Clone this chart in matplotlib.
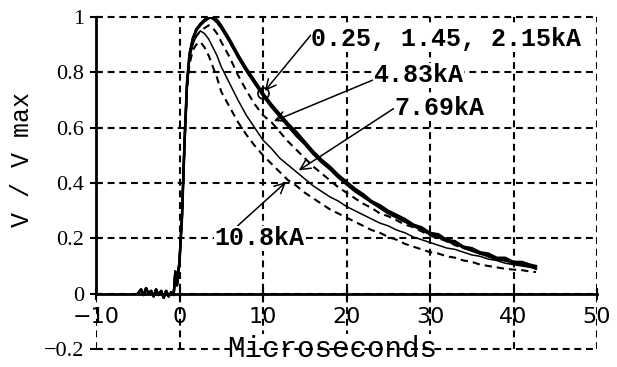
import matplotlib
matplotlib.use("Agg")
import matplotlib.pyplot as plt

# ---------------- data ----------------
# pre-trigger baseline noise (common to all records)
t_pre = [-5.0, -4.6, -4.3, -4.0, -3.7, -3.4, -3.1, -2.8, -2.5, -2.2, -1.9, -1.6,
         -1.3, -1.0, -0.7, -0.5]
v_pre = [0.0, 0.015, -0.005, 0.02, 0.0, 0.01, -0.01, 0.015, -0.005, 0.01, -0.015,
         0.01, -0.01, 0.005, -0.005, 0.08]

t_rise = [-0.3, 0.0, 0.3, 0.6, 0.9, 1.2, 1.6, 2.0, 2.5, 3.0, 3.5, 4.0, 4.5]
t_decay = [5, 6, 7, 8, 9, 10, 11, 12, 13, 14, 15, 16, 17, 18, 19, 20, 21, 22, 23,
           24, 25, 26, 27, 28, 29, 30, 31, 32, 33, 34, 35, 36, 37, 38, 39, 40, 41,
           42, 42.7]

rise_025 = [0.03, 0.12, 0.28, 0.55, 0.76, 0.86, 0.92, 0.95, 0.97, 0.985, 0.995, 1.0, 0.99]
decay_025 = [0.97, 0.92, 0.865, 0.815, 0.77, 0.725, 0.685, 0.65, 0.615, 0.585, 0.55,
             0.515, 0.485, 0.46, 0.43, 0.405, 0.38, 0.36, 0.335, 0.32, 0.30, 0.285,
             0.27, 0.25, 0.24, 0.22, 0.215, 0.195, 0.19, 0.17, 0.165, 0.15, 0.145,
             0.13, 0.13, 0.115, 0.115, 0.105, 0.10]

rise_145 = [0.03, 0.11, 0.27, 0.53, 0.75, 0.86, 0.92, 0.955, 0.975, 0.99, 1.0, 0.995, 0.985]
decay_145 = [0.965, 0.915, 0.86, 0.81, 0.765, 0.72, 0.68, 0.645, 0.61, 0.575, 0.545,
             0.51, 0.48, 0.455, 0.425, 0.40, 0.375, 0.355, 0.33, 0.315, 0.295, 0.28,
             0.265, 0.245, 0.235, 0.215, 0.21, 0.19, 0.185, 0.165, 0.16, 0.145, 0.14,
             0.125, 0.125, 0.11, 0.11, 0.10, 0.095]

rise_215 = [0.03, 0.12, 0.29, 0.56, 0.77, 0.87, 0.925, 0.955, 0.975, 0.99, 1.0, 0.995, 0.98]
decay_215 = [0.96, 0.91, 0.855, 0.805, 0.76, 0.715, 0.675, 0.64, 0.605, 0.57, 0.54,
             0.505, 0.475, 0.45, 0.42, 0.395, 0.37, 0.35, 0.33, 0.31, 0.29, 0.275,
             0.26, 0.245, 0.23, 0.215, 0.205, 0.19, 0.18, 0.17, 0.155, 0.145, 0.135,
             0.125, 0.12, 0.11, 0.105, 0.10, 0.09]

rise_483 = [0.03, 0.12, 0.28, 0.54, 0.75, 0.85, 0.91, 0.93, 0.95, 0.96, 0.97, 0.96, 0.94]
decay_483 = [0.91, 0.855, 0.79, 0.735, 0.685, 0.645, 0.62, 0.585, 0.55, 0.52, 0.49,
             0.46, 0.435, 0.41, 0.385, 0.365, 0.345, 0.325, 0.31, 0.29, 0.28, 0.265,
             0.25, 0.24, 0.225, 0.21, 0.20, 0.19, 0.175, 0.165, 0.155, 0.145, 0.135,
             0.125, 0.12, 0.11, 0.105, 0.10, 0.095]

rise_769 = [0.03, 0.12, 0.28, 0.54, 0.75, 0.85, 0.90, 0.93, 0.95, 0.94, 0.92, 0.89, 0.86]
decay_769 = [0.82, 0.76, 0.70, 0.645, 0.60, 0.555, 0.525, 0.49, 0.465, 0.44, 0.415,
             0.39, 0.37, 0.35, 0.335, 0.315, 0.30, 0.285, 0.27, 0.255, 0.245, 0.23,
             0.22, 0.205, 0.195, 0.185, 0.175, 0.165, 0.16, 0.15, 0.14, 0.135, 0.125,
             0.12, 0.11, 0.105, 0.10, 0.095, 0.09]

rise_108 = [0.03, 0.12, 0.28, 0.54, 0.74, 0.83, 0.88, 0.90, 0.91, 0.89, 0.86, 0.82, 0.78]
decay_108 = [0.73, 0.675, 0.62, 0.575, 0.535, 0.50, 0.47, 0.44, 0.41, 0.39, 0.365,
             0.345, 0.325, 0.305, 0.29, 0.275, 0.26, 0.245, 0.23, 0.22, 0.205, 0.195,
             0.18, 0.17, 0.16, 0.15, 0.145, 0.135, 0.13, 0.12, 0.115, 0.105, 0.10,
             0.095, 0.09, 0.087, 0.085, 0.08, 0.078]

x_ticks = [-10, 0, 10, 20, 30, 40, 50]
x_tick_labels = ["\u221210", "0", "10", "20", "30", "40", "50"]
y_ticks = [-0.2, 0, 0.2, 0.4, 0.6, 0.8, 1.0]
y_tick_labels = ["\u22120.2", "0", "0.2", "0.4", "0.6", "0.8", "1"]

label_main = "0.25, 1.45, 2.15kA"
label_483 = "4.83kA"
label_769 = "7.69kA"
label_108 = "10.8kA"
x_label = "Microseconds"
y_label = "V / V max"

# ---------------- figure ----------------
W, H = 617, 367
fig = plt.figure(figsize=(W / 100, H / 100), dpi=100)
ax = fig.add_axes([96 / W, 1 - 349 / H, 501 / W, 332 / H])
ax.set_xlim(-10, 50)
ax.set_ylim(-0.2, 1.0)

t_full = t_pre + t_rise + t_decay
def full(rise, decay):
    return v_pre + rise + decay

solid_main = dict(color="black", lw=1.7, solid_joinstyle="round")
dash_style = (0, (3.5, 2.4))

ax.plot(t_full, full(rise_025, decay_025), **solid_main, zorder=5)
ax.plot(t_full, full(rise_145, decay_145), **solid_main, zorder=5)
ax.plot(t_full, full(rise_215, decay_215), **solid_main, zorder=5)
ax.plot(t_full, full(rise_483, decay_483), color="black", lw=1.5, ls=dash_style, zorder=4)
ax.plot(t_full, full(rise_769, decay_769), color="black", lw=1.1, zorder=4)
ax.plot(t_full, full(rise_108, decay_108), color="black", lw=1.5, ls=dash_style, zorder=4)

# circle marker on the main curve at t = 10
i10 = t_decay.index(10)
ax.plot([t_decay[i10]], [decay_025[i10]], marker="o", ms=8, mfc="none",
        mec="black", mew=1.2, zorder=6)

# ---------------- axes styling ----------------
ax.set_xticks(x_ticks)
ax.set_xticklabels(x_tick_labels, family="Liberation Serif")
ax.set_yticks(y_ticks)
ax.set_yticklabels(y_tick_labels, family="Liberation Serif")
ax.tick_params(direction="inout", length=9, width=1.5, labelsize=16, colors="black")
ax.tick_params(axis="x", pad=5)
ax.tick_params(axis="y", pad=4)

ax.grid(True, color="black", linestyle=(0, (3.3, 2.3)), linewidth=1.5)
for gl in ax.get_xgridlines() + ax.get_ygridlines():
    gl.set_clip_on(False)
ax.get_xgridlines()[0].set_visible(False)

for s in ("top", "right"):
    ax.spines[s].set_visible(False)
ax.spines["left"].set_linewidth(2)
ax.spines["left"].set_bounds(0, 1)
ax.spines["bottom"].set_position(("data", 0))
ax.spines["bottom"].set_linewidth(2)
ax.set_axisbelow(False)

ax.set_xlabel(x_label, family="Liberation Mono", fontsize=21,
              bbox=dict(facecolor="white", edgecolor="none", pad=0.5))
ax.xaxis.set_label_coords(0.471, 0.0)
ax.xaxis.label.set_va("center")
ax.set_ylabel(y_label, family="Liberation Mono", fontsize=18)
ax.yaxis.set_label_coords(-0.148, 0.57)
ax.yaxis.label.set_va("center")

# ---------------- annotations ----------------
txt = dict(family="Liberation Mono", fontsize=18, fontweight="bold", color="black",
           bbox=dict(facecolor="white", edgecolor="none", pad=0.3), zorder=7)
arrow = dict(arrowstyle="->", color="black", lw=1.1, shrinkA=0, shrinkB=2)

ax.annotate(label_main, xy=(t_decay[i10], decay_025[i10]), xytext=(15.8, 0.92),
            ha="left", va="center", arrowprops=dict(arrow, relpos=(0, 0.7)), **txt)
i11 = t_decay.index(11)
ax.annotate(label_483, xy=(t_decay[i11], decay_483[i11]), xytext=(23.2, 0.79),
            ha="left", va="center", arrowprops=dict(arrow, relpos=(0, 0.3)), **txt)
i14 = t_decay.index(14)
ax.annotate(label_769, xy=(t_decay[i14], decay_769[i14]), xytext=(25.7, 0.67),
            ha="left", va="center", arrowprops=dict(arrow, relpos=(0, 0.5)), **txt)
i13 = t_decay.index(13)
ax.annotate(label_108, xy=(t_decay[i13], decay_108[i13]), xytext=(4.2, 0.20),
            ha="left", va="center", arrowprops=dict(arrow, relpos=(0.25, 1.0)), **txt)

fig.savefig("out.png", dpi=100)
